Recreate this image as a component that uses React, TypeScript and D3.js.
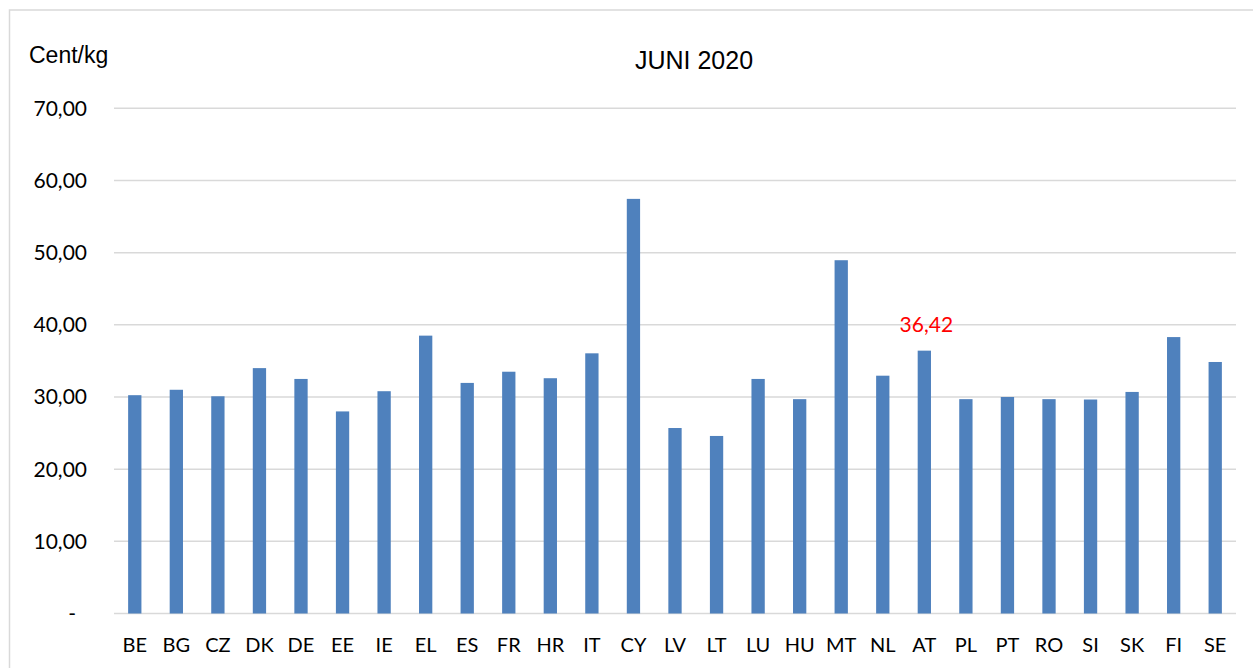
import { useEffect, useRef } from 'react';
import * as d3 from 'd3';

const countries = ['BE', 'BG', 'CZ', 'DK', 'DE', 'EE', 'IE', 'EL', 'ES', 'FR', 'HR', 'IT', 'CY', 'LV', 'LT', 'LU', 'HU', 'MT', 'NL', 'AT', 'PL', 'PT', 'RO', 'SI', 'SK', 'FI', 'SE'];
const prices = [30.25, 31.0, 30.1, 34.0, 32.5, 28.0, 30.8, 38.5, 31.95, 33.5, 32.6, 36.05, 57.45, 25.7, 24.6, 32.5, 29.7, 48.95, 32.95, 36.42, 29.7, 30.0, 29.7, 29.65, 30.7, 38.3, 34.85];
const yTicks = [0, 10, 20, 30, 40, 50, 60, 70];
const highlight = { country: 'AT', label: '36,42' };

const W = 1253;
const H = 668;

export default function App() {
  const ref = useRef<SVGSVGElement>(null);

  useEffect(() => {
    if (!ref.current) return;
    const svg = d3.select(ref.current);
    svg.selectAll('*').remove();

    const x = d3.scaleBand<string>()
      .domain(countries)
      .range([114, 1236])
      .paddingInner(0.68)
      .paddingOuter(0.34);
    const y = d3.scaleLinear().domain([0, 70]).range([613.5, 108.3]);

    // chart frame
    svg.append('rect')
      .attr('x', 9.5).attr('y', 10)
      .attr('width', W + 20).attr('height', H + 20)
      .attr('fill', 'none')
      .attr('stroke', '#d9d9d9')
      .attr('stroke-width', 1.5);

    // gridlines
    svg.append('g')
      .selectAll('line')
      .data(yTicks)
      .enter()
      .append('line')
      .attr('x1', 114).attr('x2', 1236)
      .attr('y1', d => y(d)).attr('y2', d => y(d))
      .attr('stroke', '#d9d9d9')
      .attr('stroke-width', 1.5);

    // y tick labels
    svg.append('g')
      .selectAll('text')
      .data(yTicks)
      .enter()
      .append('text')
      .attr('x', d => (d === 0 ? 76 : 87))
      .attr('y', d => y(d) + 7.5)
      .attr('text-anchor', 'end')
      .style('font-family', 'Lato')
      .style('font-size', '21px')
      .attr('fill', '#000')
      .text(d => (d === 0 ? '-' : d3.format('.2f')(d).replace('.', ',')));

    // bars
    svg.append('g')
      .selectAll('rect')
      .data(countries)
      .enter()
      .append('rect')
      .attr('x', d => x(d) || 0)
      .attr('width', x.bandwidth())
      .attr('y', (d, i) => y(prices[i]))
      .attr('height', (d, i) => y(0) - y(prices[i]))
      .attr('fill', '#4f81bd');

    // x labels
    svg.append('g')
      .selectAll('text')
      .data(countries)
      .enter()
      .append('text')
      .attr('x', d => (x(d) || 0) + x.bandwidth() / 2)
      .attr('y', 652)
      .attr('text-anchor', 'middle')
      .style('font-family', 'Lato')
      .style('font-size', '20px')
      .attr('fill', '#000')
      .text(d => d);

    // highlighted value
    const hi = countries.indexOf(highlight.country);
    svg.append('text')
      .attr('x', (x(highlight.country) || 0) + x.bandwidth() / 2 + 2)
      .attr('y', y(prices[hi]) - 19)
      .attr('text-anchor', 'middle')
      .style('font-family', 'Lato')
      .style('font-size', '21px')
      .attr('fill', '#ff0000')
      .text(highlight.label);

    // title and unit
    svg.append('text')
      .attr('x', 694)
      .attr('y', 69)
      .attr('text-anchor', 'middle')
      .style('font-family', 'Liberation Sans')
      .style('font-size', '25px')
      .attr('fill', '#000')
      .text('JUNI 2020');

    svg.append('text')
      .attr('x', 29)
      .attr('y', 63)
      .style('font-family', 'Liberation Sans')
      .style('font-size', '23px')
      .attr('fill', '#000')
      .text('Cent/kg');
  }, []);

  return (
    <svg
      ref={ref}
      width={W}
      height={H}
      style={{ position: 'absolute', left: 0, top: 0, background: '#fff' }}
    />
  );
}
